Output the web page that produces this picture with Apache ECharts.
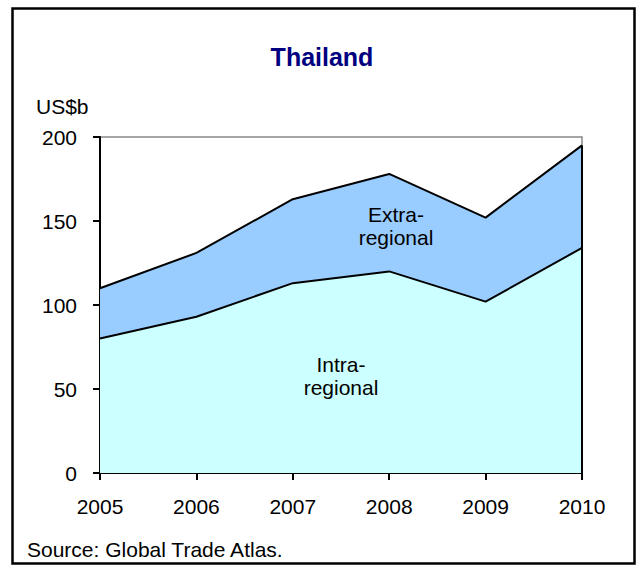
<!DOCTYPE html>
<html>
<head>
<meta charset="utf-8">
<script src="https://cdn.jsdelivr.net/npm/echarts@6/dist/echarts.min.js"></script>
<style>
  html, body { margin: 0; padding: 0; background: #fff; }
  #chart { width: 640px; height: 565px; }
</style>
</head>
<body>
<div id="chart"></div>
<script>
var years = ['2005', '2006', '2007', '2008', '2009', '2010'];
var intraRegional = [80, 93, 113, 120, 102, 134];
var extraRegional = [30, 38, 50, 58, 50, 61];
var yTicks = [0, 50, 100, 150, 200];

var font = 'Liberation Sans, Arial, sans-serif';
var lastIdx = years.length - 1;
var lastTotal = intraRegional[lastIdx] + extraRegional[lastIdx];

var chart = echarts.init(document.getElementById('chart'), null, { renderer: 'svg' });
chart.setOption({
  animation: false,
  backgroundColor: '#fff',
  grid: {
    left: 100, right: 58, top: 137, bottom: 92,
    show: true, borderColor: '#888', borderWidth: 1.5, backgroundColor: 'transparent'
  },
  xAxis: {
    type: 'category',
    data: years,
    boundaryGap: false,
    axisLine: { lineStyle: { color: '#000', width: 2 } },
    axisTick: { show: true, inside: false, length: 7, lineStyle: { color: '#000', width: 2 } },
    axisLabel: { color: '#000', fontSize: 21, fontFamily: font, margin: 23 },
    splitLine: { show: false }
  },
  yAxis: {
    type: 'value',
    min: yTicks[0],
    max: yTicks[yTicks.length - 1],
    interval: 50,
    axisLine: { show: true, lineStyle: { color: '#000', width: 2 } },
    axisTick: { show: true, inside: false, length: 7, lineStyle: { color: '#000', width: 2 } },
    axisLabel: { color: '#000', fontSize: 21, fontFamily: font, margin: 23 },
    splitLine: { show: false }
  },
  graphic: [
    { type: 'rect', left: 10, top: 6, shape: { width: 622, height: 555 },
      style: { fill: 'none', stroke: '#000', lineWidth: 2.5 }, silent: true, z: -1 },
    { type: 'text', x: 322, y: 57,
      style: { text: 'Thailand', fill: '#000080', font: 'bold 25px ' + font, align: 'center', verticalAlign: 'middle' } },
    { type: 'text', x: 36, y: 106,
      style: { text: 'US$b', fill: '#000', font: '21px ' + font, verticalAlign: 'middle' } },
    { type: 'text', x: 27, y: 549,
      style: { text: 'Source: Global Trade Atlas.', fill: '#000', font: '21px ' + font, verticalAlign: 'middle' } },
    { type: 'text', x: 396, y: 226, z: 100,
      style: { text: 'Extra-\nregional', fill: '#000', font: '21px ' + font, align: 'center', verticalAlign: 'middle', lineHeight: 23 } },
    { type: 'text', x: 341, y: 376, z: 100,
      style: { text: 'Intra-\nregional', fill: '#000', font: '21px ' + font, align: 'center', verticalAlign: 'middle', lineHeight: 23 } }
  ],
  series: [
    {
      name: 'Intra-regional',
      type: 'line',
      stack: 'total',
      data: intraRegional,
      symbol: 'none',
      lineStyle: { color: '#000', width: 2 },
      areaStyle: { color: '#CCFFFF', opacity: 1 }
    },
    {
      name: 'Extra-regional',
      type: 'line',
      stack: 'total',
      data: extraRegional,
      symbol: 'none',
      lineStyle: { color: '#000', width: 2 },
      areaStyle: { color: '#99CCFF', opacity: 1 },
      markLine: {
        symbol: 'none',
        silent: true,
        label: { show: false },
        lineStyle: { color: '#000', width: 2, type: 'solid' },
        data: [[{ coord: [years[lastIdx], 0] }, { coord: [years[lastIdx], lastTotal] }]]
      }
    }
  ]
});
</script>
</body>
</html>
